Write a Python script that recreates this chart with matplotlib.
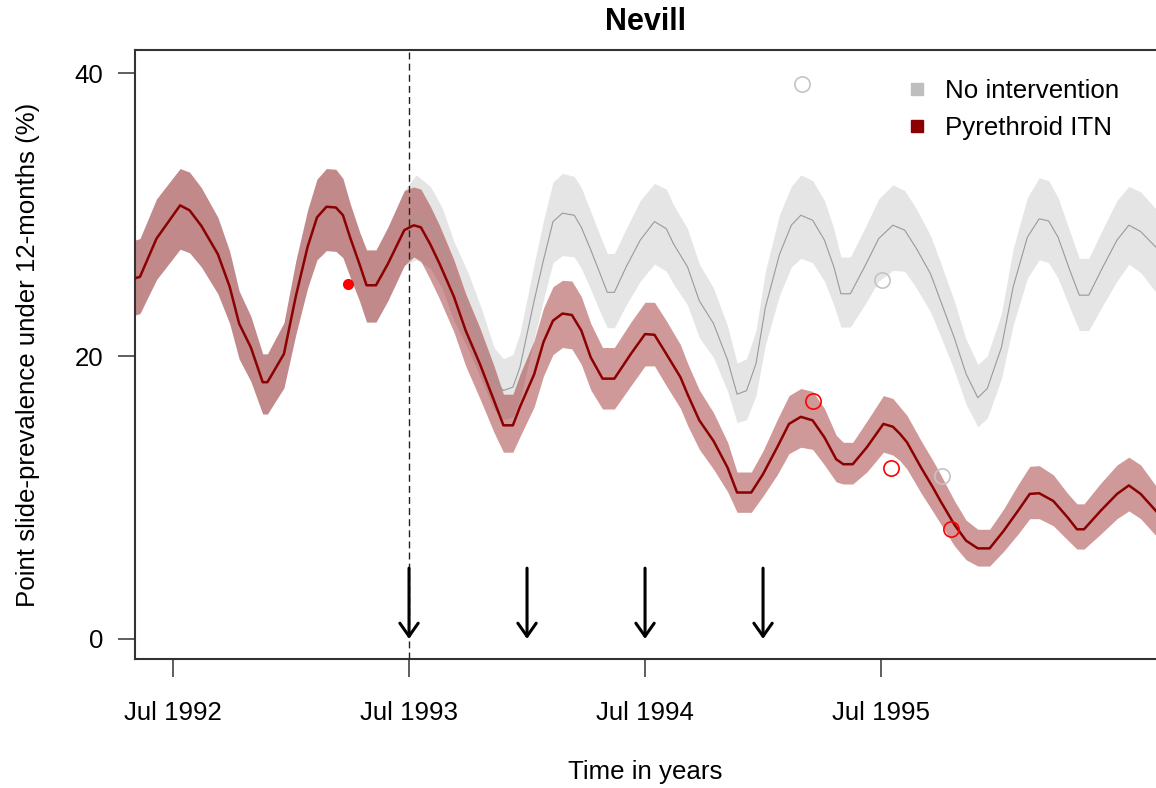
import matplotlib
matplotlib.use("Agg")
import matplotlib.pyplot as plt
from matplotlib.lines import Line2D

plt.rcParams['font.family'] = ['Liberation Sans', 'DejaVu Sans']

# time in decimal years, prevalence in %
# before the nets both scenarios share the same curve
pre_t = [1992.34, 1992.36, 1992.43, 1992.53, 1992.57, 1992.62, 1992.69, 1992.74,
         1992.78, 1992.83, 1992.88, 1992.90, 1992.97, 1993.02, 1993.07, 1993.11,
         1993.15, 1993.19, 1993.22, 1993.25, 1993.29, 1993.32, 1993.36, 1993.41,
         1993.48]
pre_mid = [25.5, 25.6, 28.3, 30.65, 30.3, 29.2, 27.2, 24.9, 22.3, 20.6, 18.15, 18.15,
           20.15, 24.2, 27.7, 29.8, 30.55, 30.5, 29.95, 28.4, 26.5, 25.0, 25.0, 26.5,
           28.9]
pre_lo = [22.9, 23.0, 25.4, 27.55, 27.3, 26.3, 24.4, 22.3, 19.8, 18.2, 15.9, 15.9,
          17.75, 21.5, 24.8, 26.8, 27.45, 27.4, 26.95, 25.6, 23.9, 22.4, 22.4, 23.9,
          26.4]
pre_hi = [28.2, 28.3, 31.1, 33.25, 33.0, 31.9, 29.8, 27.4, 24.6, 22.8, 20.15, 20.15,
          22.35, 26.7, 30.3, 32.5, 33.25, 33.2, 32.55, 30.8, 28.8, 27.5, 27.5, 29.1,
          31.7]

# Pyrethroid ITN after Jul 1993
itn_t = [1993.52, 1993.55, 1993.59, 1993.63, 1993.69, 1993.74, 1993.80, 1993.86,
         1993.90, 1993.94, 1993.97, 1994.03, 1994.07, 1994.11, 1994.15, 1994.19,
         1994.23, 1994.27, 1994.32, 1994.37, 1994.44, 1994.50, 1994.54, 1994.59,
         1994.65, 1994.68, 1994.73, 1994.79, 1994.85, 1994.89, 1994.95, 1995.00,
         1995.06, 1995.11, 1995.16, 1995.21, 1995.26, 1995.31, 1995.34, 1995.38,
         1995.44, 1995.51, 1995.55, 1995.58, 1995.61, 1995.67, 1995.72, 1995.75,
         1995.81, 1995.86, 1995.91, 1995.96, 1996.02, 1996.08, 1996.13, 1996.17,
         1996.23, 1996.29, 1996.33, 1996.36, 1996.43, 1996.50, 1996.55, 1996.60,
         1996.67]
itn_mid = [29.24, 29.1, 27.9, 26.5, 24.2, 21.8, 19.45, 16.85, 15.1, 15.1, 16.4, 18.7,
           21.0, 22.5, 23.0, 22.9, 21.8, 19.9, 18.4, 18.4, 20.15, 21.55, 21.5, 20.15,
           18.5, 17.3, 15.45, 14.0, 12.1, 10.35, 10.35, 11.65, 13.55, 15.2, 15.7,
           15.45, 14.25, 12.7, 12.35, 12.35, 13.55, 15.2, 15.0, 14.5, 13.9, 12.1,
           10.7, 9.8, 8.1, 6.95, 6.4, 6.4, 7.65, 9.05, 10.25, 10.3, 9.75, 8.6, 7.75,
           7.75, 9.05, 10.25, 10.85, 10.25, 8.95]
itn_lo = [27.0, 26.7, 25.4, 24.0, 21.7, 19.3, 17.0, 14.6, 13.2, 13.2, 14.3, 16.4,
          18.6, 20.1, 20.6, 20.5, 19.4, 17.6, 16.25, 16.25, 17.9, 19.3, 19.3, 17.9,
          16.3, 15.1, 13.4, 12.0, 10.4, 8.95, 8.95, 10.1, 11.6, 13.1, 13.55, 13.4,
          12.3, 11.1, 10.95, 10.95, 11.8, 13.2, 13.0, 12.6, 12.0, 10.3, 9.0, 8.2,
          6.6, 5.6, 5.15, 5.15, 6.2, 7.4, 8.5, 8.5, 8.0, 7.0, 6.35, 6.35, 7.4, 8.5,
          9.05, 8.5, 7.2]
itn_hi = [31.95, 31.8, 30.6, 29.2, 26.8, 24.4, 22.0, 19.3, 17.3, 17.3, 18.7, 21.1,
          23.4, 24.9, 25.35, 25.3, 24.2, 22.3, 20.6, 20.6, 22.4, 23.8, 23.8, 22.5,
          20.8, 19.5, 17.6, 16.0, 13.9, 11.8, 11.8, 13.3, 15.5, 17.2, 17.7, 17.5,
          16.3, 14.4, 13.9, 13.9, 15.4, 17.2, 17.0, 16.4, 15.8, 14.0, 12.6, 11.7,
          9.8, 8.4, 7.75, 7.75, 9.2, 10.9, 12.2, 12.25, 11.6, 10.3, 9.55, 9.55,
          11.0, 12.3, 12.85, 12.3, 10.7]

# no intervention after Jul 1993
none_t = [1993.53, 1993.59, 1993.64, 1993.69, 1993.75, 1993.81, 1993.86, 1993.90,
          1993.94, 1993.97, 1994.03, 1994.07, 1994.11, 1994.15, 1994.20, 1994.23,
          1994.27, 1994.31, 1994.34, 1994.37, 1994.42, 1994.48, 1994.54, 1994.59,
          1994.62, 1994.68, 1994.73, 1994.79, 1994.85, 1994.89, 1994.93, 1994.97,
          1995.01, 1995.07, 1995.12, 1995.16, 1995.21, 1995.26, 1995.30, 1995.33,
          1995.37, 1995.43, 1995.49, 1995.55, 1995.60, 1995.65, 1995.71, 1995.75,
          1995.81, 1995.86, 1995.91, 1995.95, 1996.01, 1996.06, 1996.12, 1996.17,
          1996.21, 1996.25, 1996.30, 1996.34, 1996.38, 1996.44, 1996.50, 1996.55,
          1996.60, 1996.67]
none_mid = [29.8, 29.2, 27.7, 25.35, 23.2, 20.6, 18.3, 17.56, 17.8, 19.2, 23.9, 26.8,
            29.5, 30.1, 29.95, 29.1, 27.5, 25.8, 24.5, 24.5, 26.3, 28.2, 29.5, 29.0,
            27.95, 26.3, 23.9, 22.3, 19.7, 17.3, 17.55, 19.45, 23.45, 27.2, 29.25,
            29.95, 29.6, 28.2, 26.3, 24.4, 24.4, 26.3, 28.3, 29.25, 28.9, 27.6, 25.8,
            24.0, 21.3, 18.75, 17.05, 17.7, 20.6, 24.9, 28.4, 29.7, 29.55, 28.4,
            26.05, 24.3, 24.3, 26.3, 28.2, 29.25, 28.8, 27.6]
none_lo = [26.8, 26.2, 24.8, 22.5, 20.5, 18.2, 16.2, 15.5, 15.7, 16.9, 21.2, 24.0,
           26.6, 27.1, 27.0, 26.2, 24.7, 23.1, 22.0, 22.0, 23.6, 25.3, 26.5, 26.0,
           25.1, 23.6, 21.3, 19.9, 17.5, 15.3, 15.5, 17.2, 20.8, 24.3, 26.3, 26.9,
           26.6, 25.3, 23.6, 22.05, 22.05, 23.6, 25.3, 26.05, 26.0, 24.8, 23.1, 21.5,
           19.0, 16.6, 15.0, 15.6, 18.4, 22.2, 25.5, 26.8, 26.6, 25.5, 23.4, 21.8,
           21.8, 23.6, 25.3, 26.5, 25.9, 24.4]
none_hi = [32.8, 32.0, 30.5, 28.1, 25.9, 23.2, 20.6, 19.8, 20.1, 21.6, 26.5, 29.6,
           32.3, 32.9, 32.7, 31.9, 30.2, 28.5, 27.25, 27.25, 29.0, 31.0, 32.2, 31.8,
           30.7, 29.0, 26.5, 24.8, 22.1, 19.5, 19.8, 21.8, 26.0, 30.0, 32.0, 32.8,
           32.4, 31.0, 29.0, 27.0, 27.0, 29.0, 31.1, 32.1, 31.7, 30.4, 28.5, 26.7,
           23.9, 21.2, 19.4, 20.0, 23.0, 27.6, 31.2, 32.6, 32.4, 31.2, 28.8, 26.9,
           26.9, 29.0, 31.0, 32.0, 31.6, 30.3]

# survey data
pre_obs_t = [1993.24]
pre_obs_y = [25.06]
none_obs_t = [1995.165, 1995.504, 1995.758]
none_obs_y = [39.2, 25.4, 11.5]
itn_obs_t = [1995.212, 1995.542, 1995.797]
itn_obs_y = [16.8, 12.1, 7.8]

net_rounds = [1993.5, 1994.0, 1994.5, 1995.0]
x_ticks = [1992.5, 1993.5, 1994.5, 1995.5]
x_labels = ['Jul 1992', 'Jul 1993', 'Jul 1994', 'Jul 1995']
y_ticks = [0, 20, 40]

grey = '#bebebe'
dred = '#8b0000'
fs = 18.6

fig = plt.figure(figsize=(11.56, 7.88), dpi=100)
ax = fig.add_axes([0.1168, 0.1637, 0.8832, 0.7728])

t_none = pre_t + none_t
t_itn = pre_t + itn_t

ax.fill_between(t_none, pre_lo + none_lo, pre_hi + none_hi, color=grey, alpha=0.4, lw=0, zorder=1)
ax.fill_between(t_itn, pre_lo + itn_lo, pre_hi + itn_hi, color=dred, alpha=0.4, lw=0, zorder=2)
ax.plot(t_none, pre_mid + none_mid, color='#9a9a9a', lw=0.8, zorder=3)
ax.plot(t_itn, pre_mid + itn_mid, color=dred, lw=1.8, zorder=4)

ax.axvline(1993.5, color='#222222', lw=1.0, ls=(0, (5, 3)), zorder=5)

ax.plot(pre_obs_t, pre_obs_y, 'o', color='red', markersize=7, zorder=6)
ax.plot(none_obs_t, none_obs_y, 'o', mfc='none', mec='#c4c4c4', mew=1.2, markersize=11, zorder=6)
ax.plot(itn_obs_t, itn_obs_y, 'o', mfc='none', mec='red', mew=1.2, markersize=11, zorder=6)

for t in net_rounds:
    ax.annotate('', xy=(t, 0), xytext=(t, 5.0),
                arrowprops=dict(arrowstyle='->,head_length=0.47,head_width=0.33',
                                mutation_scale=20, lw=2.2, color='black',
                                shrinkA=0, shrinkB=0), zorder=7)

ax.set_xlim(1992.339, 1996.665)
ax.set_ylim(-1.42, 41.63)
ax.set_xticks(x_ticks)
ax.set_xticklabels(x_labels)
ax.set_yticks(y_ticks)

for side in ['top', 'left', 'bottom']:
    ax.spines[side].set_color('#333333')
    ax.spines[side].set_linewidth(1.5)
ax.spines['right'].set_visible(False)

ax.tick_params(axis='x', length=13, width=1.1, pad=17.5, labelsize=fs, color='#333333')
ax.tick_params(axis='y', length=12, width=1.1, pad=11, labelsize=fs, color='#333333')

ax.set_xlabel('Time in years', fontsize=fs)
ax.xaxis.set_label_coords(0.5, -0.166)
ax.set_ylabel('Point slide-prevalence under 12-months (%)', fontsize=fs)
ax.yaxis.set_label_coords(-0.093, 0.5)

fig.text(645 / 1156, 1 - 22 / 788, 'Nevill', ha='center', va='center',
         fontsize=22, fontweight='bold')

handles = [Line2D([], [], marker='s', ls='none', color=grey, markersize=8),
           Line2D([], [], marker='s', ls='none', color=dred, markersize=8)]
ax.legend(handles, ['No intervention', 'Pyrethroid ITN'], loc='upper left',
          bbox_to_anchor=(0.753, 0.953), frameon=False, fontsize=fs,
          borderaxespad=0, borderpad=0, handlelength=1.0, handletextpad=0.6,
          labelspacing=0.5)

fig.savefig('out.png', dpi=100)
